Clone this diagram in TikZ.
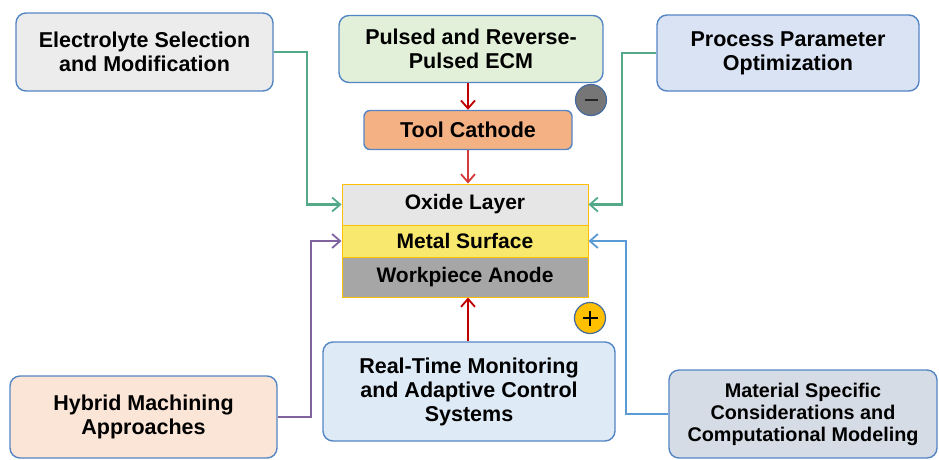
\documentclass[tikz,border=0pt]{standalone}
\usepackage{fontspec}
\setmainfont{Liberation Sans}
\usetikzlibrary{arrows.meta}
\definecolor{bordblue}{RGB}{84,133,196}
\definecolor{fgray}{RGB}{236,236,236}
\definecolor{fgreen}{RGB}{226,240,217}
\definecolor{fblue}{RGB}{218,227,243}
\definecolor{forange}{RGB}{244,177,131}
\definecolor{fpeach}{RGB}{251,229,214}
\definecolor{flblue}{RGB}{222,235,247}
\definecolor{fslate}{RGB}{214,220,229}
\definecolor{oxfill}{RGB}{231,230,230}
\definecolor{metfill}{RGB}{248,232,110}
\definecolor{wpfill}{RGB}{166,166,166}
\definecolor{gold}{RGB}{255,192,0}
\definecolor{cgreen}{RGB}{84,170,136}
\definecolor{cpurple}{RGB}{128,100,162}
\definecolor{cblue}{RGB}{91,155,213}
\definecolor{dred}{RGB}{192,0,0}
\definecolor{lred}{RGB}{212,58,58}
\definecolor{mgray}{RGB}{118,118,118}
\tikzset{
  box/.style={draw=bordblue, line width=1.4pt, rounded corners=10pt, align=center,
    font=\fontsize{21.5}{24}\selectfont\bfseries, inner sep=0pt},
  layer/.style={draw=gold, line width=1pt, align=center, inner sep=0pt,
    font=\fontsize{21}{24}\selectfont\bfseries, minimum width=246pt},
  conn/.style={line width=2.3pt, -{Straight Barb[length=8pt,width=14pt,line width=1.8pt]}},
  sign/.style={circle, draw=bordblue!80!black, line width=1.2pt, minimum size=31pt, inner sep=0pt}
}
\begin{document}
\begin{tikzpicture}[x=1pt,y=-1pt]
\useasboundingbox (0,0) rectangle (939,459);
% boxes
\node[box, fill=fgray, minimum width=257pt, minimum height=78pt] (elec) at (144.5,52) {Electrolyte Selection\\and Modification};
\node[box, fill=fgreen, minimum width=264pt, minimum height=67pt] (puls) at (471,49) {Pulsed and Reverse-\\Pulsed ECM};
\node[box, fill=fblue, minimum width=262pt, minimum height=76pt] (proc) at (788,53) {Process Parameter\\Optimization};
\node[box, fill=forange, rounded corners=6pt, minimum width=208pt, minimum height=39pt] (tool) at (468,130) {Tool Cathode};
\node[layer, fill=oxfill, minimum height=41pt] (oxide) at (465,204.5) {\raisebox{-2pt}{Oxide Layer}};
\node[layer, fill=metfill, minimum height=32pt] (metal) at (465,241) {\raisebox{-1pt}{Metal Surface}};
\node[layer, fill=wpfill, minimum height=40pt] (wp) at (465,277) {Workpiece Anode};
\node[box, fill=flblue, minimum width=292pt, minimum height=99pt] (rt) at (469,391.5) {Real-Time Monitoring\\and Adaptive Control\\Systems};
\node[box, fill=fpeach, minimum width=267pt, minimum height=82pt] (hyb) at (143.5,417) {Hybrid Machining\\Approaches};
\node[box, fill=fslate, minimum width=268pt, minimum height=88pt, font=\fontsize{19.8}{22}\selectfont\bfseries] (mat) at (803,414) {Material Specific\\Considerations and\\Computational Modeling};
% sign circles
\node[sign, fill=mgray] (minus) at (591,100) {};
\draw[line width=2.8pt, black!85] (minus.center) ++(-6.5,0) -- ++(13,0);
\node[sign, fill=gold] (plus) at (590,318) {};
\draw[line width=2pt, black] (plus.center) ++(-7.5,0) -- ++(15,0);
\draw[line width=2pt, black] (plus.center) ++(0,-7.5) -- ++(0,15);
% connectors
\draw[conn, draw=cgreen] (elec.east) -- ++(33,0) |- (oxide.west);
\draw[conn, draw=cgreen] (proc.west) -- ++(-34,0) |- (oxide.east);
\draw[conn, draw=cpurple] (hyb.east) -- ++(33,0) |- (metal.west);
\draw[conn, draw=cblue] (mat.west) -- ++(-42,0) |- (metal.east);
\draw[conn, draw=dred, line width=2.4pt] (puls.south -| tool.north) -- (tool.north);
\draw[conn, draw=lred, line width=1.4pt] (tool.south) -- (oxide.north -| tool.south);
\draw[conn, draw=dred, line width=2.6pt] (rt.north -| tool.south) -- (wp.south -| tool.south);
\end{tikzpicture}
\end{document}
